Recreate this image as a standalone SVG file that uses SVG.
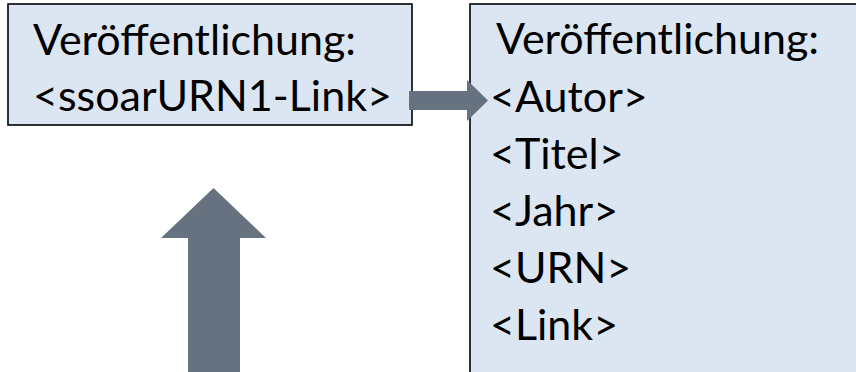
<svg xmlns="http://www.w3.org/2000/svg" width="856" height="372" viewBox="0 0 856 372">
  <style>
    .box { fill: #dce6f2; stroke: #000000; stroke-width: 1.6; }
    .label { font-family: Lato, "Open Sans", "Liberation Sans", sans-serif; font-size: 43px; fill: #000000; }
    .arrow { fill: #66727f; stroke: none; }
  </style>
  <rect width="856" height="372" fill="#ffffff"/>

  <!-- source record -->
  <g id="node-source">
    <rect class="box" x="8" y="4" width="404" height="121"/>
    <text class="label" x="33" y="55">Veröffentlichung:</text>
    <text class="label" x="33" y="111">&lt;ssoarURN1-Link&gt;</text>
  </g>

  <!-- resolved record -->
  <g id="node-target">
    <rect class="box" x="470" y="4" width="400" height="380"/>
    <text class="label" x="496" y="54">Veröffentlichung:</text>
    <text class="label" x="490" y="112">&lt;Autor&gt;</text>
    <text class="label" x="490" y="169">&lt;Titel&gt;</text>
    <text class="label" x="490" y="226">&lt;Jahr&gt;</text>
    <text class="label" x="490" y="283">&lt;URN&gt;</text>
    <text class="label" x="490" y="340">&lt;Link&gt;</text>
  </g>

  <!-- block arrows -->
  <g id="connectors">
    <polygon class="arrow" points="409,91 467,91 467,80 488,100.5 467,121 467,110 409,110"/>
    <polygon class="arrow" points="213.5,188 266,238 240,238 240,372 188,372 188,238 161,238"/>
  </g>
</svg>
